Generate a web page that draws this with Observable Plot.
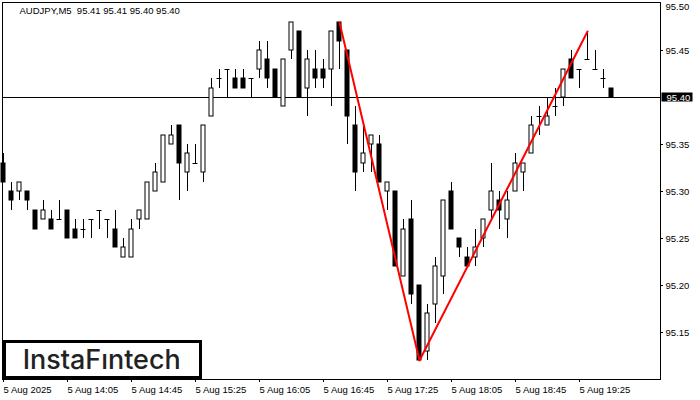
<!DOCTYPE html>
<html>
<head>
<meta charset="utf-8">
<script src="https://cdn.jsdelivr.net/npm/d3@7"></script>
<script src="https://cdn.jsdelivr.net/npm/@observablehq/plot@0.6"></script>
<style>
  html, body { margin: 0; padding: 0; background: #fff; }
  #wrap { position: relative; width: 700px; height: 400px; overflow: hidden; }
  #logo { position: absolute; left: 3px; top: 340px; width: 199px; height: 39px; }
</style>
</head>
<body>
<div id="wrap">
  <div id="chart"></div>
  <svg id="logo" width="199" height="39" viewBox="0 0 199 39">
    <rect x="1.5" y="1.5" width="196" height="36" fill="#fff" stroke="#000" stroke-width="3"></rect>
    <text x="19.7" y="29" font-family="Inter, Lato, 'Noto Sans', sans-serif" font-weight="500" font-size="27" fill="#222" textLength="158" lengthAdjust="spacingAndGlyphs">InstaFıntech</text>
  </svg>
</div>
<script>
const symbol = "AUDJPY";
const timeframe = "M5";

const times = [
  "13:25","13:30","13:35","13:40","13:45","13:50","13:55",
  "14:00","14:05","14:10","14:15","14:20","14:25","14:30","14:35","14:40","14:45","14:50","14:55",
  "15:00","15:05","15:10","15:15","15:20","15:25","15:30","15:35","15:40","15:45","15:50","15:55",
  "16:00","16:05","16:10","16:15","16:20","16:25","16:30","16:35","16:40","16:45","16:50","16:55",
  "17:00","17:05","17:10","17:15","17:20","17:25","17:30","17:35","17:40","17:45","17:50","17:55",
  "18:00","18:05","18:10","18:15","18:20","18:25","18:30","18:35","18:40","18:45","18:50","18:55",
  "19:00","19:05","19:10","19:15","19:20","19:25","19:30","19:35","19:40","19:45"
];

const open = [
  95.33,95.30,95.30,95.30,95.28,95.27,95.27,95.27,95.28,95.26,
  95.26,95.27,95.28,95.27,95.26,95.23,95.23,95.27,95.27,95.30,
  95.31,95.35,95.37,95.32,95.33,95.32,95.38,95.42,95.43,95.42,
  95.42,95.42,95.43,95.44,95.43,95.39,95.45,95.47,95.41,95.43,
  95.43,95.43,95.48,95.45,95.37,95.33,95.35,95.35,95.30,95.30,
  95.21,95.27,95.20,95.13,95.18,95.21,95.30,95.25,95.23,95.23,
  95.25,95.28,95.29,95.27,95.30,95.32,95.34,95.38,95.37,95.39,
  95.40,95.44,95.43,95.44,95.43,95.42,95.41
];
const high = [
  95.34,95.31,95.31,95.30,95.28,95.29,95.28,95.29,95.28,95.27,
  95.27,95.27,95.28,95.27,95.28,95.25,95.27,95.28,95.31,95.33,
  95.36,95.37,95.37,95.35,95.35,95.37,95.42,95.43,95.43,95.43,
  95.43,95.42,95.46,95.46,95.43,95.44,95.48,95.47,95.45,95.45,
  95.44,95.47,95.48,95.45,95.39,95.37,95.36,95.36,95.31,95.30,
  95.27,95.29,95.20,95.18,95.23,95.29,95.31,95.25,95.24,95.26,
  95.27,95.33,95.30,95.30,95.34,95.33,95.38,95.39,95.40,95.41,
  95.43,95.45,95.43,95.47,95.45,95.43,95.41
];
const low = [
  95.31,95.28,95.29,95.28,95.26,95.27,95.26,95.27,95.25,95.25,
  95.25,95.25,95.26,95.25,95.24,95.23,95.23,95.26,95.27,95.30,
  95.31,95.35,95.29,95.30,95.33,95.31,95.38,95.41,95.40,95.41,
  95.41,95.40,95.42,95.41,95.40,95.39,95.44,95.40,95.38,95.41,
  95.41,95.39,95.43,95.35,95.30,95.32,95.32,95.31,95.28,95.22,
  95.21,95.18,95.12,95.12,95.16,95.19,95.26,95.23,95.22,95.22,
  95.24,95.27,95.26,95.25,95.30,95.30,95.34,95.36,95.37,95.38,
  95.39,95.42,95.41,95.44,95.43,95.41,95.40
];
const close = [
  95.31,95.29,95.31,95.29,95.26,95.28,95.26,95.27,95.25,95.25,
  95.26,95.27,95.28,95.27,95.24,95.24,95.26,95.28,95.31,95.32,
  95.36,95.36,95.33,95.34,95.33,95.37,95.41,95.42,95.43,95.41,
  95.41,95.42,95.45,95.42,95.40,95.44,95.48,95.40,95.44,95.42,
  95.42,95.47,95.46,95.38,95.32,95.34,95.36,95.31,95.31,95.22,
  95.26,95.19,95.12,95.17,95.22,95.29,95.26,95.24,95.22,95.24,
  95.27,95.30,95.28,95.29,95.33,95.33,95.37,95.38,95.38,95.39,
  95.43,95.42,95.43,95.44,95.43,95.42,95.40
];

const xTickTimes = ["13:25","14:05","14:45","15:25","16:05","16:45","17:25","18:05","18:45","19:25"];
const xTickLabels = ["5 Aug 2025","5 Aug 14:05","5 Aug 14:45","5 Aug 15:25","5 Aug 16:05","5 Aug 16:45","5 Aug 17:25","5 Aug 18:05","5 Aug 18:45","5 Aug 19:25"];
const yTicks = [95.15, 95.20, 95.25, 95.30, 95.35, 95.45, 95.50];

const patternTimes = ["16:55", "17:45", "19:30"];
const patternPrices = [95.48, 95.12, 95.47];

// ---- build tables ----
const bars = times.map((t, i) => ({i, t, open: open[i], high: high[i], low: low[i], close: close[i]}));
const blackBodies = bars.filter(d => d.close < d.open);
const whiteBodies = bars.filter(d => d.close > d.open);
const dojis = bars.filter(d => d.close === d.open);
const pattern = patternTimes.map((t, j) => ({i: times.indexOf(t), p: patternPrices[j]}));
const xTickPos = xTickTimes.map(t => times.indexOf(t));
const last = bars[bars.length - 1];
const fmt = d3.format(".2f");
const titleText = `${symbol},${timeframe}  ${fmt(last.open)} ${fmt(last.high)} ${fmt(last.low)} ${fmt(last.close)}`;

const xDomain = [-0.125, 82.125];
const yDomain = [95.10, 95.50106];

const chart = Plot.plot({
  width: 700,
  height: 400,
  marginLeft: 2,
  marginRight: 40,
  marginTop: 2,
  marginBottom: 21,
  style: {fontFamily: "'Liberation Sans', Arial, sans-serif", fontSize: "9.5px", background: "#fff", color: "#000"},
  x: {type: "linear", domain: xDomain, label: null},
  y: {type: "linear", domain: yDomain, round: true, label: null},
  marks: [
    Plot.ruleY([last.close], {stroke: "#000"}),
    Plot.ruleX(bars, {x: "i", y1: "low", y2: "high", stroke: "#000"}),
    Plot.rect(whiteBodies, {x1: d => d.i - 0.25, x2: d => d.i + 0.25, y1: "open", y2: "close", fill: "#fff", stroke: "#000"}),
    Plot.rect(blackBodies, {x1: d => d.i - 0.25, x2: d => d.i + 0.25, y1: "open", y2: "close", fill: "#000", stroke: "#000"}),
    Plot.ruleY(dojis, {y: "open", x1: d => d.i - 0.3125, x2: d => d.i + 0.3125, stroke: "#000"}),
    Plot.line(pattern, {x: "i", y: "p", stroke: "#ff0000", strokeWidth: 2}),
    Plot.frame({stroke: "#000"}),
    Plot.axisX({ticks: xTickPos, tickFormat: d => xTickLabels[xTickPos.indexOf(d)], tickSize: 3, tickPadding: 3.5, textAnchor: "start", label: null, fill: "#000"}),
    Plot.axisY({anchor: "right", ticks: yTicks.filter(v => v !== 95.50), tickFormat: fmt, tickSize: 2, tickPadding: 3, textAnchor: "start", label: null, fill: "#000"}),
    Plot.axisY({anchor: "right", ticks: yTicks.filter(v => v === 95.50), tickFormat: fmt, tickSize: 0, tickPadding: 5, dy: 3.5, textAnchor: "start", label: null, fill: "#000"}),
    Plot.rect([last.close], {x1: xDomain[1], x2: xDomain[1], y1: d => d, y2: d => d, insetLeft: 1.5, insetRight: -32.5, insetTop: -4.5, insetBottom: -4.5, fill: "#000"}),
    Plot.text([last.close], {y: d => d, frameAnchor: "right", dx: 6, textAnchor: "start", fill: "#fff", text: d => fmt(d)}),
    Plot.text([titleText], {frameAnchor: "top-left", dx: 17, dy: 8, textAnchor: "start", lineAnchor: "middle", fill: "#000", text: d => d})
  ]
});
document.getElementById("chart").appendChild(chart);
</script>
</body>
</html>
